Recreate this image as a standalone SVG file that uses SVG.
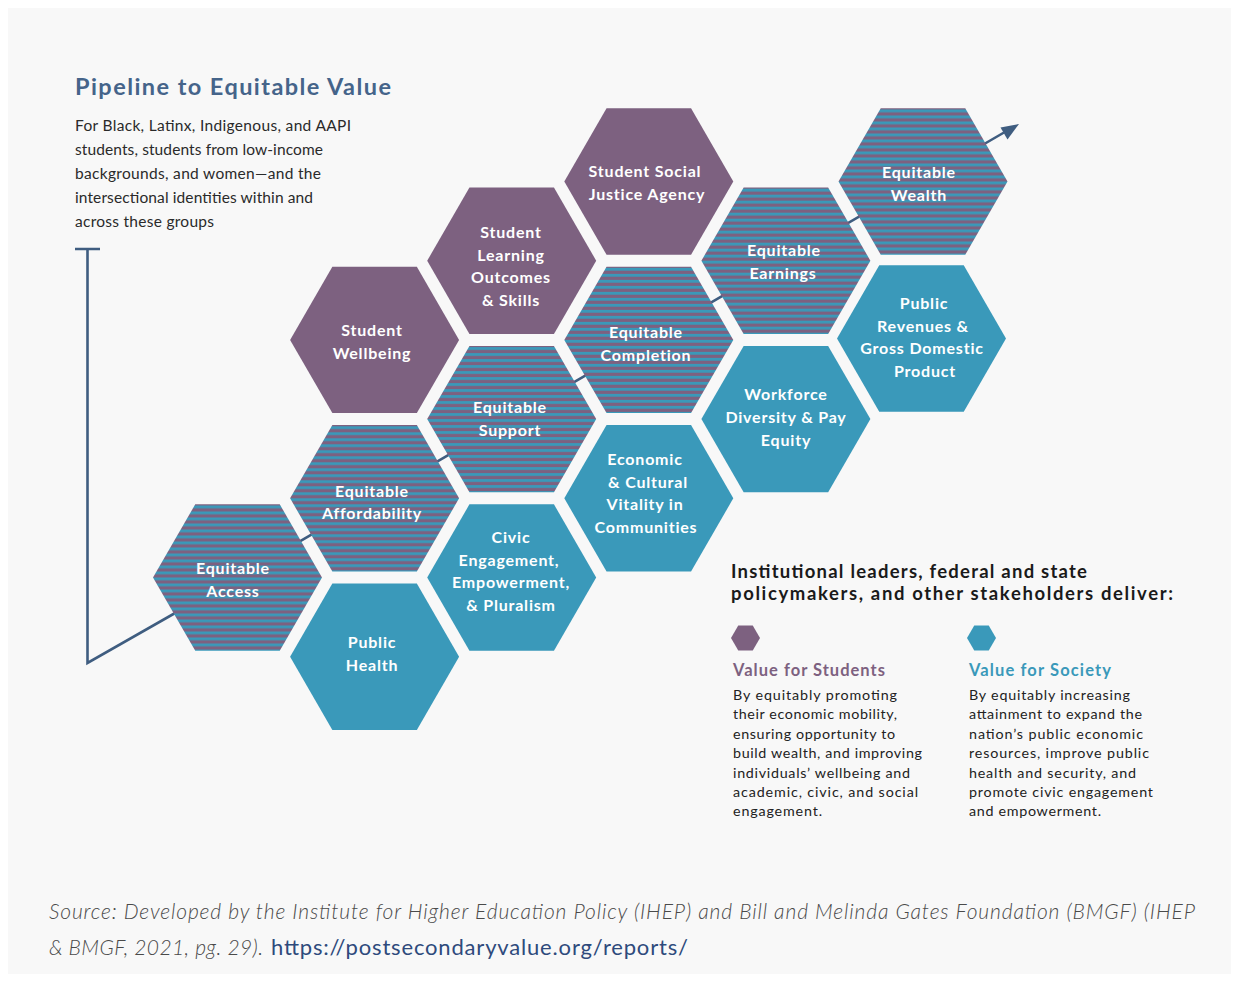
<svg xmlns="http://www.w3.org/2000/svg" xmlns:xlink="http://www.w3.org/1999/xlink" width="1239" height="981" viewBox="0 0 1239 981">
  <style>
    .purple { fill: #7d6180; }
    .blue { fill: #3a99ba; }
    .stripe { fill: url(#stripes); }
    .lbl { font-family: Lato, "Noto Sans", sans-serif; font-weight: 700; font-size: 16px; letter-spacing: 0.8px; fill: #ffffff; text-anchor: middle; }
    .title { font-family: Lato, "Noto Sans", sans-serif; font-weight: 700; font-size: 23.5px; fill: #45648a; }
    .body { font-family: Lato, "Noto Sans", sans-serif; font-size: 15.5px; fill: #2a2a2a; }
    .head { font-family: Lato, "Noto Sans", sans-serif; font-weight: 700; font-size: 18.5px; fill: #1a1a1a; }
    .vhead { font-family: Lato, "Noto Sans", sans-serif; font-weight: 700; font-size: 16.5px; }
    .small { font-family: Lato, "Noto Sans", sans-serif; font-size: 14.3px; fill: #222222; }
    .src { font-family: Lato, "Noto Sans", sans-serif; font-style: italic; font-weight: 300; font-size: 21px; fill: #4a4a4a; }
    .link { font-family: Lato, "Noto Sans", sans-serif; font-weight: 400; font-size: 22px; fill: #2e4a7c; }
    .pipe { fill: none; stroke: #3f5d80; stroke-width: 2.6; }
  </style>
  <defs>
    <pattern id="stripes" patternUnits="userSpaceOnUse" width="12" height="6">
      <rect x="0" y="0" width="12" height="6" fill="#7d6180"/>
      <rect x="0" y="0" width="12" height="2.8" fill="#3a99ba"/>
    </pattern>
    <path id="hx" d="M-84.5 0 L-42.25 -73.2 L42.25 -73.2 L84.5 0 L42.25 73.2 L-42.25 73.2 Z"/>
    <path id="hxs" d="M-14.5 0 L-7.25 -12.5 L7.25 -12.5 L14.5 0 L7.25 12.5 L-7.25 12.5 Z"/>
  </defs>

  <rect x="0" y="0" width="1239" height="981" fill="#ffffff"/>
  <rect x="8" y="8" width="1223" height="966" fill="#f8f8f8"/>

  <!-- pipeline connector, drawn behind the hexagons -->
  <g id="connectors">
    <path class="pipe" d="M75 249 H100 M87.5 249 V663 L237.5 577.5 L1004 132.5"/>
    <path d="M1019 124 L1000.5 127.5 L1007.5 139.5 Z" fill="#3f5d80"/>
  </g>

  <!-- column 0 -->
  <g id="equitable-access">
    <use xlink:href="#hx" x="237.5" y="577.5" class="stripe"/>
    <text class="lbl" x="233" y="574">Equitable</text>
    <text class="lbl" x="233" y="597">Access</text>
  </g>

  <!-- column 1 -->
  <g id="student-wellbeing">
    <use xlink:href="#hx" x="374.6" y="339.9" class="purple"/>
    <text class="lbl" x="372" y="336">Student</text>
    <text class="lbl" x="372" y="359">Wellbeing</text>
  </g>
  <g id="equitable-affordability">
    <use xlink:href="#hx" x="374.6" y="498.3" class="stripe"/>
    <text class="lbl" x="372" y="497">Equitable</text>
    <text class="lbl" x="372" y="519">Affordability</text>
  </g>
  <g id="public-health">
    <use xlink:href="#hx" x="374.6" y="656.7" class="blue"/>
    <text class="lbl" x="372" y="648">Public</text>
    <text class="lbl" x="372" y="671">Health</text>
  </g>

  <!-- column 2 -->
  <g id="student-learning">
    <use xlink:href="#hx" x="511.7" y="260.7" class="purple"/>
    <text class="lbl" x="511" y="238">Student</text>
    <text class="lbl" x="511" y="261">Learning</text>
    <text class="lbl" x="511" y="283">Outcomes</text>
    <text class="lbl" x="511" y="306">&amp; Skills</text>
  </g>
  <g id="equitable-support">
    <use xlink:href="#hx" x="511.7" y="419.1" class="stripe"/>
    <text class="lbl" x="510" y="413">Equitable</text>
    <text class="lbl" x="510" y="436">Support</text>
  </g>
  <g id="civic-engagement">
    <use xlink:href="#hx" x="511.7" y="577.5" class="blue"/>
    <text class="lbl" x="511" y="543">Civic</text>
    <text class="lbl" x="509" y="566">Engagement,</text>
    <text class="lbl" x="511" y="588">Empowerment,</text>
    <text class="lbl" x="511" y="611">&amp; Pluralism</text>
  </g>

  <!-- column 3 -->
  <g id="social-justice-agency">
    <use xlink:href="#hx" x="648.8" y="181.5" class="purple"/>
    <text class="lbl" x="645" y="177">Student Social</text>
    <text class="lbl" x="647" y="200">Justice Agency</text>
  </g>
  <g id="equitable-completion">
    <use xlink:href="#hx" x="648.8" y="339.9" class="stripe"/>
    <text class="lbl" x="646" y="338">Equitable</text>
    <text class="lbl" x="646" y="361">Completion</text>
  </g>
  <g id="economic-vitality">
    <use xlink:href="#hx" x="648.8" y="498.3" class="blue"/>
    <text class="lbl" x="645" y="465">Economic</text>
    <text class="lbl" x="648" y="488">&amp; Cultural</text>
    <text class="lbl" x="645" y="510">Vitality in</text>
    <text class="lbl" x="646" y="533">Communities</text>
  </g>

  <!-- column 4 -->
  <g id="equitable-earnings">
    <use xlink:href="#hx" x="785.9" y="260.7" class="stripe"/>
    <text class="lbl" x="784" y="256">Equitable</text>
    <text class="lbl" x="783" y="279">Earnings</text>
  </g>
  <g id="workforce-diversity">
    <use xlink:href="#hx" x="785.9" y="419.1" class="blue"/>
    <text class="lbl" x="786" y="400">Workforce</text>
    <text class="lbl" x="786" y="423">Diversity &amp; Pay</text>
    <text class="lbl" x="786" y="446">Equity</text>
  </g>

  <!-- column 5 -->
  <g id="equitable-wealth">
    <use xlink:href="#hx" x="923" y="181.5" class="stripe"/>
    <text class="lbl" x="919" y="178">Equitable</text>
    <text class="lbl" x="919" y="201">Wealth</text>
  </g>
  <g id="public-revenues">
    <use xlink:href="#hx" x="921.5" y="338.5" class="blue"/>
    <text class="lbl" x="924" y="309">Public</text>
    <text class="lbl" x="923" y="332">Revenues &amp;</text>
    <text class="lbl" x="922" y="354">Gross Domestic</text>
    <text class="lbl" x="925" y="377">Product</text>
  </g>

  <!-- heading and intro -->
  <g id="title">
    <text class="title" x="75" y="95" textLength="316" lengthAdjust="spacing">Pipeline to Equitable Value</text>
    <text class="body" x="75" y="131" textLength="276" lengthAdjust="spacing">For Black, Latinx, Indigenous, and AAPI</text>
    <text class="body" x="75" y="155" textLength="248" lengthAdjust="spacing">students, students from low-income</text>
    <text class="body" x="75" y="179" textLength="246" lengthAdjust="spacing">backgrounds, and women—and the</text>
    <text class="body" x="75" y="203" textLength="238" lengthAdjust="spacing">intersectional identities within and</text>
    <text class="body" x="75" y="227" textLength="139" lengthAdjust="spacing">across these groups</text>
  </g>

  <!-- legend -->
  <g id="legend">
    <text class="head" x="731" y="578" textLength="356" lengthAdjust="spacing">Institutional leaders, federal and state</text>
    <text class="head" x="731" y="600" textLength="442" lengthAdjust="spacing">policymakers, and other stakeholders deliver:</text>
    <use xlink:href="#hxs" x="745.5" y="638" class="purple"/>
    <use xlink:href="#hxs" x="981.5" y="638" class="blue"/>
    <text class="vhead" x="733" y="676" fill="#7d6180" textLength="152" lengthAdjust="spacing">Value for Students</text>
    <text class="vhead" x="969" y="676" fill="#3a99ba" textLength="142" lengthAdjust="spacing">Value for Society</text>
    <text class="small" x="733" y="700" textLength="164" lengthAdjust="spacing">By equitably promoting</text>
    <text class="small" x="733" y="719" textLength="164" lengthAdjust="spacing">their economic mobility,</text>
    <text class="small" x="733" y="739" textLength="162" lengthAdjust="spacing">ensuring opportunity to</text>
    <text class="small" x="733" y="758" textLength="189" lengthAdjust="spacing">build wealth, and improving</text>
    <text class="small" x="733" y="778" textLength="177" lengthAdjust="spacing">individuals’ wellbeing and</text>
    <text class="small" x="733" y="797" textLength="185" lengthAdjust="spacing">academic, civic, and social</text>
    <text class="small" x="733" y="816" textLength="89" lengthAdjust="spacing">engagement.</text>
    <text class="small" x="969" y="700" textLength="161" lengthAdjust="spacing">By equitably increasing</text>
    <text class="small" x="969" y="719" textLength="173" lengthAdjust="spacing">attainment to expand the</text>
    <text class="small" x="969" y="739" textLength="174" lengthAdjust="spacing">nation’s public economic</text>
    <text class="small" x="969" y="758" textLength="180" lengthAdjust="spacing">resources, improve public</text>
    <text class="small" x="969" y="778" textLength="167" lengthAdjust="spacing">health and security, and</text>
    <text class="small" x="969" y="797" textLength="184" lengthAdjust="spacing">promote civic engagement</text>
    <text class="small" x="969" y="816" textLength="132" lengthAdjust="spacing">and empowerment.</text>
  </g>

  <!-- source line -->
  <g id="source">
    <text class="src" x="49" y="919" textLength="1146" lengthAdjust="spacing">Source: Developed by the Institute for Higher Education Policy (IHEP) and Bill and Melinda Gates Foundation (BMGF) (IHEP</text>
    <text class="src" x="49" y="955" textLength="214" lengthAdjust="spacing">&amp; BMGF, 2021, pg. 29).</text>
    <text class="link" x="271" y="955" textLength="417" lengthAdjust="spacing">https://postsecondaryvalue.org/reports/</text>
  </g>
</svg>
